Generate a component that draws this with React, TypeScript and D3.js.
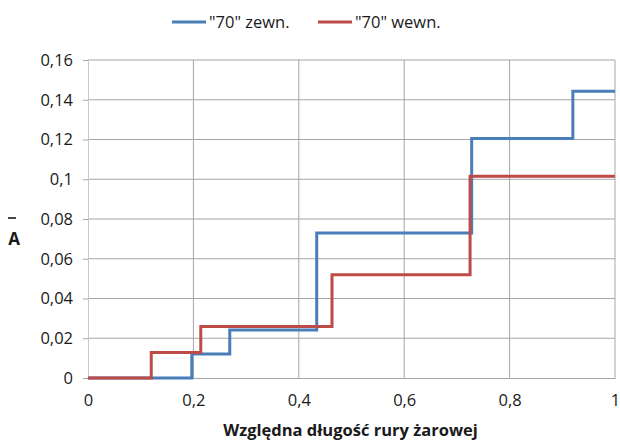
import React, { useEffect, useRef } from 'react'
import * as d3 from 'd3'

// step data: x where each level starts, and the level value
const zewnX = [0, 0.197, 0.269, 0.434, 0.728, 0.92, 1]
const zewnY = [0, 0.0121, 0.0242, 0.073, 0.1205, 0.1443, 0.1443]
const wewnX = [0, 0.12, 0.214, 0.463, 0.725, 1]
const wewnY = [0, 0.0128, 0.0259, 0.0519, 0.1015, 0.1015]
const xTicks = [0, 0.2, 0.4, 0.6, 0.8, 1]
const yTicks = [0, 0.02, 0.04, 0.06, 0.08, 0.1, 0.12, 0.14, 0.16]
const seriesNames = ['"70" zewn.', '"70" wewn.']
const colors = ['#4a7ebb', '#be4b48']

const W = 620
const H = 441
const font = "'Open Sans', 'Liberation Sans', sans-serif"

const App = () => {
  const ref = useRef<SVGSVGElement>(null)

  useEffect(() => {
    const svg = d3.select(ref.current)
    svg.selectAll('*').remove()

    const x = d3.scaleLinear().domain([0, 1]).range([88, 615])
    const y = d3.scaleLinear().domain([0, 0.16]).range([378, 60])
    const fmt = (d: number) => String(d).replace('.', ',')

    // grid
    svg.append('g').selectAll('line').data(yTicks.slice(1)).join('line')
      .attr('x1', x(0)).attr('x2', x(1))
      .attr('y1', d => y(d)).attr('y2', d => y(d))
      .attr('stroke', '#a6a6a6').attr('stroke-width', 1)
    svg.append('g').selectAll('line').data(xTicks.slice(1)).join('line')
      .attr('x1', d => x(d)).attr('x2', d => x(d))
      .attr('y1', y(0)).attr('y2', y(0.16))
      .attr('stroke', '#a6a6a6').attr('stroke-width', 1)

    // y axis
    const gy = svg.append('g').attr('transform', `translate(${x(0)},0)`)
      .call(d3.axisLeft(y).tickValues(yTicks).tickFormat(d => fmt(d as number)).tickSize(5).tickPadding(10))
    gy.select('.domain').attr('stroke', '#c8c8c8')
    gy.selectAll('.tick line').attr('stroke', '#a6a6a6')
    gy.selectAll('text').attr('font-family', font).attr('font-size', 16.5).attr('fill', '#1a1a1a')

    // x axis
    const gx = svg.append('g').attr('transform', `translate(0,${y(0)})`)
      .call(d3.axisBottom(x).tickValues(xTicks).tickFormat(d => fmt(d as number)).tickSize(0).tickPadding(16))
    gx.select('.domain').attr('stroke', '#a6a6a6')
    gx.selectAll('text').attr('font-family', font).attr('font-size', 16.5).attr('fill', '#1a1a1a')

    // step lines
    const line = d3.line<[number, number]>()
      .x(d => x(d[0])).y(d => y(d[1]))
      .curve(d3.curveStepAfter)
    const series = [
      zewnX.map((v, i) => [v, zewnY[i]] as [number, number]),
      wewnX.map((v, i) => [v, wewnY[i]] as [number, number]),
    ]
    series.forEach((s, i) => {
      svg.append('path').attr('d', line(s))
        .attr('fill', 'none').attr('stroke', colors[i]).attr('stroke-width', 3)
    })

    // legend
    const legendX = [172, 318]
    seriesNames.forEach((name, i) => {
      svg.append('line').attr('x1', legendX[i]).attr('x2', legendX[i] + 34)
        .attr('y1', 22).attr('y2', 22).attr('stroke', colors[i]).attr('stroke-width', 3)
      svg.append('text').attr('x', legendX[i] + 37).attr('y', 28)
        .attr('font-family', font).attr('font-size', 16.5).attr('fill', '#1a1a1a').text(name)
    })

    // axis titles
    svg.append('text').attr('x', (x(0) + x(1)) / 2 - 1).attr('y', 436)
      .attr('text-anchor', 'middle').attr('font-family', font).attr('font-size', 16.5)
      .attr('font-weight', 'bold').attr('fill', '#1a1a1a').text('Względna długość rury żarowej')
    svg.append('line').attr('x1', 8).attr('x2', 16).attr('y1', 218).attr('y2', 218)
      .attr('stroke', '#1a1a1a').attr('stroke-width', 1.6)
    svg.append('text').attr('x', 14).attr('y', 245).attr('text-anchor', 'middle')
      .attr('font-family', font).attr('font-size', 17).attr('font-weight', 'bold')
      .attr('fill', '#1a1a1a').text('A')
  }, [])

  return (
    <svg ref={ref} width={W} height={H}
      style={{ position: 'absolute', left: 0, top: 0, background: '#fff' }} />
  )
}

export default App
